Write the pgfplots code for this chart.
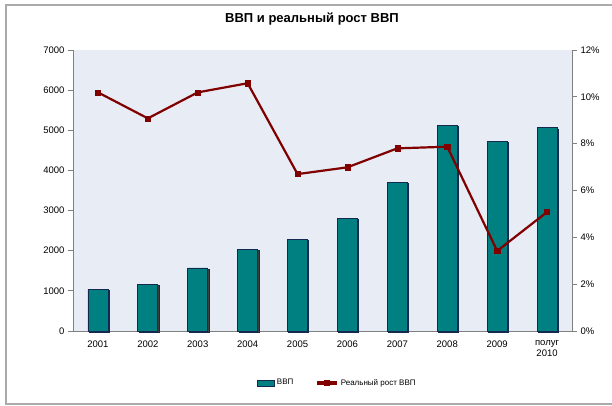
\documentclass[border=0pt]{standalone}
\usepackage{pgfplots}
\pgfplotsset{compat=1.18}
\usepackage{fontspec}
\setmainfont{Liberation Sans}
\definecolor{bgplot}{RGB}{232,236,244}
\definecolor{barfill}{RGB}{0,128,128}
\definecolor{baredge}{RGB}{20,40,80}
\definecolor{linered}{RGB}{128,0,0}
\definecolor{axgray}{RGB}{128,128,128}
\definecolor{framegray}{RGB}{170,170,170}
\pgfplotsset{
  barlegend/.style={legend image code/.code={\draw[##1] (0pt,-3pt) rectangle (17pt,3pt);}},
  linelegend/.style={legend image code/.code={\draw[##1, line width=3.5pt] (0pt,0pt) -- (20pt,0pt);
    \draw[##1] plot coordinates {(10pt,0pt)};}},
}
\begin{document}
\begin{tikzpicture}[x=1pt,y=1pt]
\useasboundingbox (0,0) rectangle (612,406);
\draw[framegray, line width=1.2pt] (612,401) -- (6,401) -- (6,2) -- (612,2);
\node[font=\fontsize{13}{15}\selectfont\bfseries] at (312,387) {ВВП и реальный рост ВВП};
\begin{axis}[
  at={(73pt,75pt)}, anchor=south west,
  scale only axis, width=499pt, height=281pt,
  xmin=-0.5, xmax=9.5, ymin=0, ymax=7000,
  axis background/.style={fill=bgplot},
  axis x line*=bottom, axis y line*=left,
  axis line style={axgray, line width=0.8pt},
  every tick/.style={axgray, line width=0.8pt},
  xtick={0,...,9},
  xticklabels={2001,2002,2003,2004,2005,2006,2007,2008,2009,{полуг\\2010}},
  x tick label style={align=center, font=\fontsize{9.5}{11}\selectfont, yshift=-1pt},
  major x tick style={draw=none},
  extra x ticks={0.5,1.5,...,8.5},
  extra x tick labels={},
  extra x tick style={tick style={axgray, line width=0.8pt}, major tick length=5pt, tick align=center},
  ytick={0,1000,...,7000},
  y tick label style={font=\fontsize{9.5}{11}\selectfont},
  /pgf/number format/assume math mode=true,
  /pgf/number format/1000 sep={},
  tick align=outside, major tick length=5pt,
  clip=false,
]
\addplot[ybar, bar width=20pt, fill=barfill, draw=baredge, line width=0.8pt,
  preaction={fill=black!75, transform canvas={xshift=1.3pt, yshift=-1.3pt}}]
  coordinates {(0,1046) (1,1160) (2,1570) (3,2040) (4,2290) (5,2810) (6,3710) (7,5130) (8,4720) (9,5065)};
\end{axis}
\begin{axis}[
  at={(73pt,75pt)}, anchor=south west,
  scale only axis, width=499pt, height=281pt,
  xmin=-0.5, xmax=9.5, ymin=0, ymax=12,
  axis x line=none, axis y line*=right,
  axis line style={axgray, line width=0.8pt},
  every tick/.style={axgray, line width=0.8pt},
  ytick={0,2,...,12},
  yticklabels={0\%,2\%,4\%,6\%,8\%,10\%,12\%},
  y tick label style={font=\fontsize{9.5}{11}\selectfont},
  tick align=outside, major tick length=5pt,
  legend style={at={(0.53,-0.185)}, anchor=center, draw=none, fill=none,
    legend columns=2, font=\fontsize{8}{9}\selectfont,
    /tikz/every even column/.append style={column sep=20pt},
    legend cell align=left},
]
\addlegendimage{fill=barfill, draw=baredge, line width=0.6pt, barlegend}
\addlegendentry{ВВП}
\addplot[linered, line width=2.2pt, mark=square*, mark size=2.6pt,
  mark options={fill=linered, line width=0.5pt}, linelegend]
  coordinates {(0,10.19) (1,9.08) (2,10.19) (3,10.58) (4,6.70) (5,6.99) (6,7.80) (7,7.87) (8,3.42) (9,5.08)};
\addlegendentry{Реальный рост ВВП}
\end{axis}
\end{tikzpicture}
\end{document}
